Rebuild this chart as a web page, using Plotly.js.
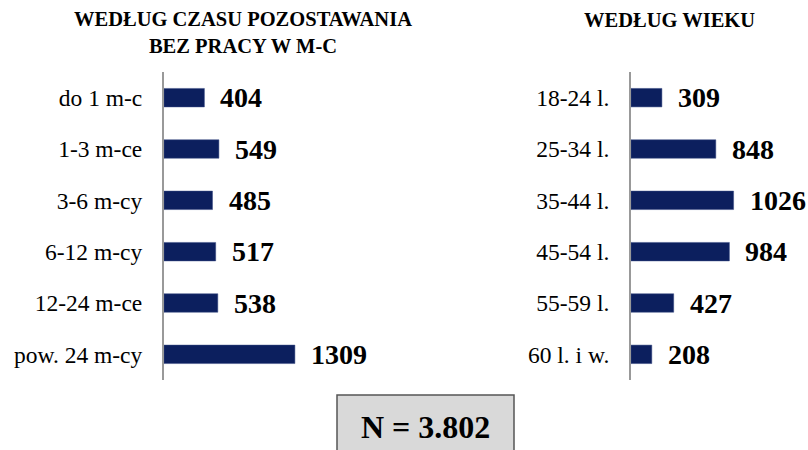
<!DOCTYPE html>
<html><head><meta charset="utf-8">
<script src="https://cdn.plot.ly/plotly-3.0.1.min.js"></script>
<style>html,body{margin:0;padding:0;background:#fff}#chart{width:808px;height:450px}</style>
</head><body><div id="chart"></div>
<script>
const durationCats = ["do 1 m-c", "1-3 m-ce", "3-6 m-cy", "6-12 m-cy", "12-24 m-ce", "pow. 24 m-cy"];
const durationVals = [404, 549, 485, 517, 538, 1309];
const ageCats = ["18-24 l.", "25-34 l.", "35-44 l.", "45-54 l.", "55-59 l.", "60 l. i w."];
const ageVals = [309, 848, 1026, 984, 427, 208];
const leftTitle = "WEDŁUG CZASU POZOSTAWANIA<br>BEZ PRACY W M-C";
const rightTitle = "WEDŁUG WIEKU";
const totalLabel = "N = 3.802";

const W = 808, H = 450;
const FONT = "'Liberation Serif', 'Times New Roman', serif";
const BAR = "#0c1f5e";
const px = (x) => x / W, py = (y) => 1 - y / H;

const traces = [
  {type: "bar", orientation: "h", x: durationVals, y: durationCats, xaxis: "x", yaxis: "y",
   marker: {color: BAR, line: {color: "#3a4d85", width: 0.5}}},
  {type: "bar", orientation: "h", x: ageVals, y: ageCats, xaxis: "x2", yaxis: "y2",
   marker: {color: BAR, line: {color: "#3a4d85", width: 0.5}}}
];

const annotations = [];
durationCats.forEach((c, i) => annotations.push({xref: "x", yref: "y", x: durationVals[i], y: c,
  text: "<b>" + durationVals[i] + "</b>", showarrow: false, xanchor: "left", xshift: 14,
  font: {family: FONT, size: 28, color: "#000"}}));
ageCats.forEach((c, i) => annotations.push({xref: "x2", yref: "y2", x: ageVals[i], y: c,
  text: "<b>" + ageVals[i] + "</b>", showarrow: false, xanchor: "left", xshift: 14,
  font: {family: FONT, size: 28, color: "#000"}}));
annotations.push({xref: "paper", yref: "paper", x: px(243), y: py(32), text: "<b>" + leftTitle + "</b>",
  showarrow: false, xanchor: "center", yanchor: "middle", align: "center",
  font: {family: FONT, size: 20.5, color: "#000"}});
annotations.push({xref: "paper", yref: "paper", x: px(669), y: py(20), text: "<b>" + rightTitle + "</b>",
  showarrow: false, xanchor: "center", yanchor: "middle",
  font: {family: FONT, size: 20.5, color: "#000"}});
annotations.push({xref: "paper", yref: "paper", x: px(425), y: py(427), text: "<b>" + totalLabel + "</b>",
  showarrow: false, xanchor: "center", yanchor: "middle",
  font: {family: FONT, size: 32, color: "#000"}});

const tickFont = {family: FONT, size: 23.5, color: "#000"};
function yAxis(anchor) {
  return {type: "category", autorange: "reversed", showline: true, linecolor: "#999", linewidth: 2,
    showgrid: false, zeroline: false, ticks: "outside", ticklen: 15, tickcolor: "rgba(0,0,0,0)",
    tickfont: tickFont, fixedrange: true, domain: [py(380), py(72)], anchor: anchor};
}

const layout = {
  width: W, height: H, margin: {l: 0, r: 0, t: 0, b: 0},
  font: {family: FONT, size: 22, color: "#000"},
  paper_bgcolor: "#fff", plot_bgcolor: "#fff", showlegend: false, bargap: 0.64,
  xaxis: {domain: [px(164), px(400)], range: [0, 2360], visible: false, fixedrange: true},
  xaxis2: {domain: [px(631), px(800)], range: [0, 1690], visible: false, fixedrange: true},
  yaxis: yAxis("x"),
  yaxis2: yAxis("x2"),
  shapes: [{type: "rect", xref: "paper", yref: "paper", x0: px(337), x1: px(514), y0: py(460), y1: py(395),
    fillcolor: "#d9d9d9", line: {color: "#555", width: 1.5}, layer: "below"}],
  annotations: annotations
};
Plotly.newPlot("chart", traces, layout, {displayModeBar: false, staticPlot: true});
</script></body></html>
